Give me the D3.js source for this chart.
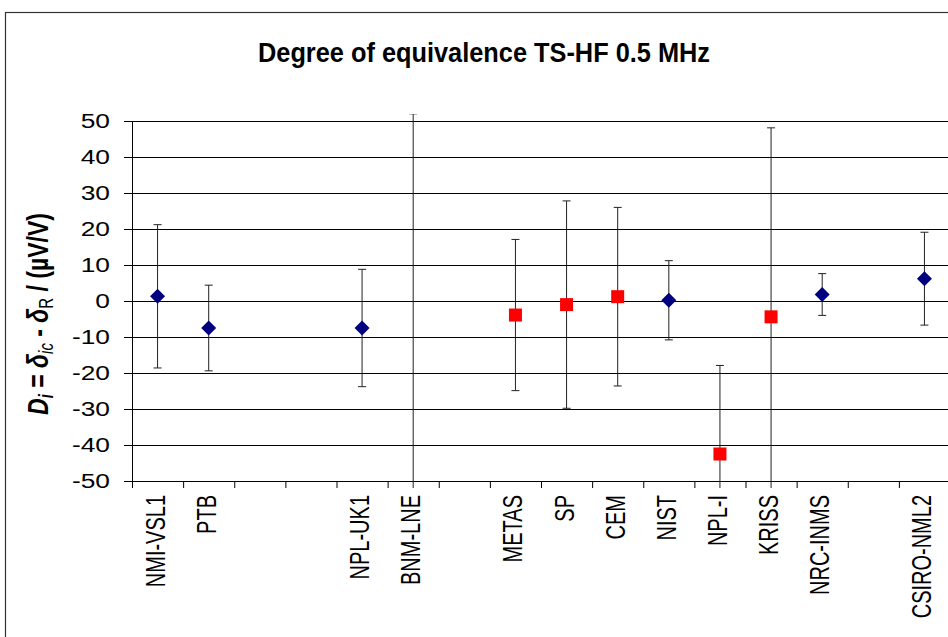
<!DOCTYPE html>
<html>
  <head>
    <title> Degree of equivalence </title>
    <script src="https://cdn.jsdelivr.net/npm/d3@7"></script>
    <style>
      body { margin: 0; background: white; }
      text { font-family: "Liberation Sans", Arial, sans-serif; fill: black; }
    </style>
  </head>
  <body>
    <script>
      // categories along x, blanks are empty slots in the original sheet
      var labs = ["NMI-VSL1", "PTB", "", "", "NPL-UK1", "BNM-LNE", "", "METAS", "SP", "CEM", "NIST", "NPL-I", "KRISS", "NRC-INMS", "", "CSIRO-NML2"];

      // blue diamonds
      var diaLabs = ["NMI-VSL1", "PTB", "NPL-UK1", "BNM-LNE", "NIST", "NRC-INMS", "CSIRO-NML2"];
      var diaVals = [1.3, -7.5, -7.5, -62, 0.2, 1.8, 6.2];
      var diaUnc  = [19.9, 11.9, 16.3, 114, 11, 5.8, 12.9];

      // red squares
      var sqLabs = ["METAS", "SP", "CEM", "NPL-I", "KRISS"];
      var sqVals = [-3.9, -1.0, 1.2, -42.5, -4.4];
      var sqUnc  = [21, 28.8, 24.8, 24.6, 52.5];

      var yTicks = [-50, -40, -30, -20, -10, 0, 10, 20, 30, 40, 50];

      (function(){
      var W = 948, H = 637;
      var pl = 132, pr = 950, pt = 121, pb = 481;

      var svg = d3.select("body").append("svg").attr("width", W).attr("height", H);

      // outer chart frame
      svg.append("rect").attr("x", 5.5).attr("y", 12.5).attr("width", 1000).attr("height", 700)
        .attr("fill", "none").attr("stroke", "#333").attr("stroke-width", 1.2);

      var x = d3.scaleBand().domain(d3.range(labs.length)).range([pl, pr]);
      var xEdge = d3.scaleLinear().domain([0, labs.length]).range([pl, pr]);
      var y = d3.scaleLinear().domain([-50, 50]).range([pb, pt]);

      function cx(name){ return x(labs.indexOf(name)) + x.bandwidth() / 2; }

      // grid
      svg.append("g").attr("transform", "translate(" + pl + ",0)")
        .call(d3.axisLeft(y).tickValues(yTicks).tickSize(-(pr - pl)).tickFormat(""))
        .call(function(g){ g.select(".domain").remove(); g.selectAll("line").attr("stroke", "#000"); });

      // y axis
      var ya = svg.append("g").attr("transform", "translate(" + pl + ",0)")
        .call(d3.axisLeft(y).tickValues(yTicks).tickSize(8).tickSizeOuter(0).tickFormat(""));
      ya.select(".domain").attr("stroke", "#000");
      ya.selectAll("line").attr("stroke", "#000");

      svg.append("g").selectAll("text").data(yTicks).enter().append("text")
        .attr("transform", function(d){ return "translate(110," + (y(d) + 7) + ") scale(1.35,1)"; })
        .attr("text-anchor", "end").attr("font-size", 19.5)
        .text(function(d){ return d; });

      // x axis with ticks between categories
      var xa = svg.append("g").attr("transform", "translate(0," + pb + ")")
        .call(d3.axisBottom(xEdge).tickValues(d3.range(labs.length + 1)).tickSize(7).tickSizeOuter(0).tickFormat(""));
      xa.select(".domain").attr("stroke", "#000");
      xa.selectAll("line").attr("stroke", "#000");

      svg.append("g").selectAll("text").data(labs).enter().append("text")
        .attr("transform", function(d, i){ return "translate(" + (x(i) + x.bandwidth() / 2 + 7) + ",495) rotate(-90) scale(1,1.35)"; })
        .attr("text-anchor", "end").attr("font-size", 20)
        .text(function(d){ return d; });

      // error bars
      svg.append("clipPath").attr("id", "clip").append("rect")
        .attr("x", pl).attr("y", pt - 7).attr("width", pr - pl).attr("height", pb - pt + 14);

      var bars = [];
      diaLabs.forEach(function(n, i){ bars.push({n: n, v: diaVals[i], u: diaUnc[i]}); });
      sqLabs.forEach(function(n, i){ bars.push({n: n, v: sqVals[i], u: sqUnc[i]}); });

      var eb = svg.append("g").attr("clip-path", "url(#clip)").attr("stroke", "#222").attr("stroke-width", 1);
      eb.selectAll(".v").data(bars).enter().append("line")
        .attr("x1", function(d){ return cx(d.n); }).attr("x2", function(d){ return cx(d.n); })
        .attr("y1", function(d){ return y(d.v + d.u); }).attr("y2", function(d){ return y(d.v - d.u); });
      eb.selectAll(".t").data(bars).enter().append("line")
        .attr("x1", function(d){ return cx(d.n) - 4; }).attr("x2", function(d){ return cx(d.n) + 4; })
        .attr("y1", function(d){ return y(d.v + d.u); }).attr("y2", function(d){ return y(d.v + d.u); });
      eb.selectAll(".b").data(bars).enter().append("line")
        .attr("x1", function(d){ return cx(d.n) - 4; }).attr("x2", function(d){ return cx(d.n) + 4; })
        .attr("y1", function(d){ return y(d.v - d.u); }).attr("y2", function(d){ return y(d.v - d.u); });

      // markers
      var mk = svg.append("g").attr("clip-path", "url(#clip)");
      mk.selectAll("path").data(diaLabs).enter().append("path")
        .attr("d", function(d, i){
          var px = cx(d), py = y(diaVals[i]);
          return "M" + px + "," + (py - 7.5) + "L" + (px + 7.5) + "," + py + "L" + px + "," + (py + 7.5) + "L" + (px - 7.5) + "," + py + "Z";
        })
        .attr("fill", "#000080");
      mk.selectAll("rect").data(sqLabs).enter().append("rect")
        .attr("x", function(d){ return cx(d) - 6.5; }).attr("y", function(d, i){ return y(sqVals[i]) - 6.5; })
        .attr("width", 13).attr("height", 13).attr("fill", "#ff0000");

      // title
      svg.append("text").attr("x", 484).attr("y", 62).attr("text-anchor", "middle")
        .attr("font-size", 27).attr("font-weight", "bold")
        .attr("textLength", 452).attr("lengthAdjust", "spacingAndGlyphs")
        .text("Degree of equivalence TS-HF 0.5 MHz");

      // y label
      var yl = svg.append("text")
        .attr("transform", "translate(48,314) rotate(-90) scale(1,1.3)")
        .attr("text-anchor", "middle").attr("font-size", 23).attr("font-weight", "bold");
      yl.append("tspan").attr("font-style", "italic").text("D");
      yl.append("tspan").attr("font-style", "italic").attr("font-size", 15).attr("dy", 4).text("i");
      yl.append("tspan").attr("dy", -4).text(" = ");
      yl.append("tspan").attr("font-style", "italic").text("δ");
      yl.append("tspan").attr("font-style", "italic").attr("font-weight", "normal").attr("font-size", 15).attr("dy", 4).text("ic");
      yl.append("tspan").attr("dy", -4).text(" - ");
      yl.append("tspan").attr("font-style", "italic").text("δ");
      yl.append("tspan").attr("font-weight", "normal").attr("font-size", 15).attr("dy", 4).text("R");
      yl.append("tspan").attr("dy", -4).text(" / (µV/V)");
      })();
    </script>
  </body>
</html>
